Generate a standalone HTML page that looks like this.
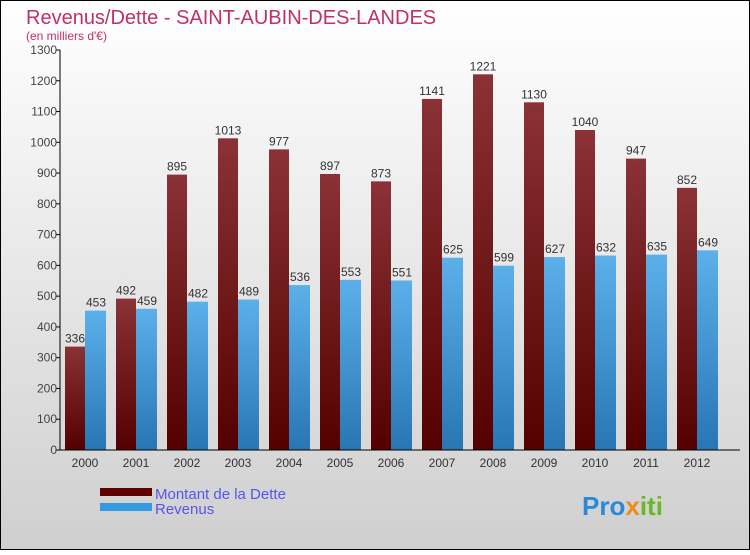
<!DOCTYPE html>
<html><head><meta charset="utf-8"><style>
body{margin:0;width:750px;height:550px;overflow:hidden;font-family:"Liberation Sans",sans-serif}
</style></head><body>
<svg id="chart" width="750" height="550" xmlns="http://www.w3.org/2000/svg">
<defs>
<linearGradient id="bg" x1="0" y1="0" x2="0" y2="1"><stop offset="0" stop-color="#ffffff"/><stop offset="1" stop-color="#cfcfcf"/></linearGradient>
<linearGradient id="gd" x1="0" y1="0" x2="0" y2="1"><stop offset="0" stop-color="#8a3236"/><stop offset="1" stop-color="#550000"/></linearGradient>
<linearGradient id="gr" x1="0" y1="0" x2="0" y2="1"><stop offset="0" stop-color="#5cb0ea"/><stop offset="1" stop-color="#2876b4"/></linearGradient>
</defs>
<rect x="0.5" y="0.5" width="749" height="549" fill="url(#bg)" stroke="#000"/>
<text x="26" y="24" font-size="20" fill="#c0306a">Revenus/Dette - SAINT-AUBIN-DES-LANDES</text>
<text x="26" y="40" font-size="12" fill="#c0306a">(en milliers d'€)</text>
<g id="bars"></g><g id="axes"></g>
<rect x="100" y="488" width="52" height="8" fill="#600000"/>
<text x="155" y="499" font-size="15" fill="#5555ee">Montant de la Dette</text>
<rect x="100" y="503" width="52" height="8" fill="#3399e0"/>
<text x="155" y="514" font-size="15" fill="#5555ee">Revenus</text>
<text x="582" y="515" font-size="26" font-weight="bold"><tspan fill="#2a8ad8">Pro</tspan><tspan fill="#f08a1a">x</tspan><tspan fill="#6ab82a">iti</tspan></text>
</svg>
<script>
const years=["2000","2001","2002","2003","2004","2005","2006","2007","2008","2009","2010","2011","2012"];
const dette=[336,492,895,1013,977,897,873,1141,1221,1130,1040,947,852];
const revenus=[453,459,482,489,536,553,551,625,599,627,632,635,649];
const yTicks=[0,100,200,300,400,500,600,700,800,900,1000,1100,1200,1300];
const NS="http://www.w3.org/2000/svg";
const x0=60,y0=450,yTop=50,yMax=1300,step=51;
const y=v=>y0-(v/yMax)*(y0-yTop);
function mk(t,a,p){const e=document.createElementNS(NS,t);for(const k in a)e.setAttribute(k,a[k]);document.getElementById(p).appendChild(e);return e;}
yTicks.forEach(v=>{
 const tk=mk('line',{x1:x0-4,x2:x0,y1:y(v),y2:y(v),stroke:'#000'},'axes');
 
 
 const t=mk('text',{x:x0-3,y:y(v)+4,'font-size':12,fill:'#444','text-anchor':'end'},'axes');
 t.textContent=v;
 
 
});
years.forEach((yr,i)=>{
 const gx=x0+5+i*step;
 const b1=mk('rect',{x:gx,y:y(dette[i]),width:20,height:y0-y(dette[i]),fill:'url(#gd)'},'bars');
 
 
 const b2=mk('rect',{x:gx+20,y:y(revenus[i]),width:21,height:y0-y(revenus[i]),fill:'url(#gr)'},'bars');
 
 
 const t1=mk('text',{x:gx+10,y:y(dette[i])-4,'font-size':12,fill:'#333','text-anchor':'middle'},'bars');
 t1.textContent=dette[i];
 
 
 const t2=mk('text',{x:gx+31,y:y(revenus[i])-4,'font-size':12,fill:'#333','text-anchor':'middle'},'bars');
 t2.textContent=revenus[i];
 
 
 const xl=mk('text',{x:gx+20,y:467,'font-size':12,fill:'#333','text-anchor':'middle'},'axes');
 xl.textContent=yr;
 
 
});
const ya=mk('line',{x1:x0,x2:x0,y1:yTop,y2:y0,stroke:'#000'},'axes');


const xa=mk('line',{x1:x0,x2:740,y1:y0,y2:y0,stroke:'#000'},'axes');


</script>
</body></html>
